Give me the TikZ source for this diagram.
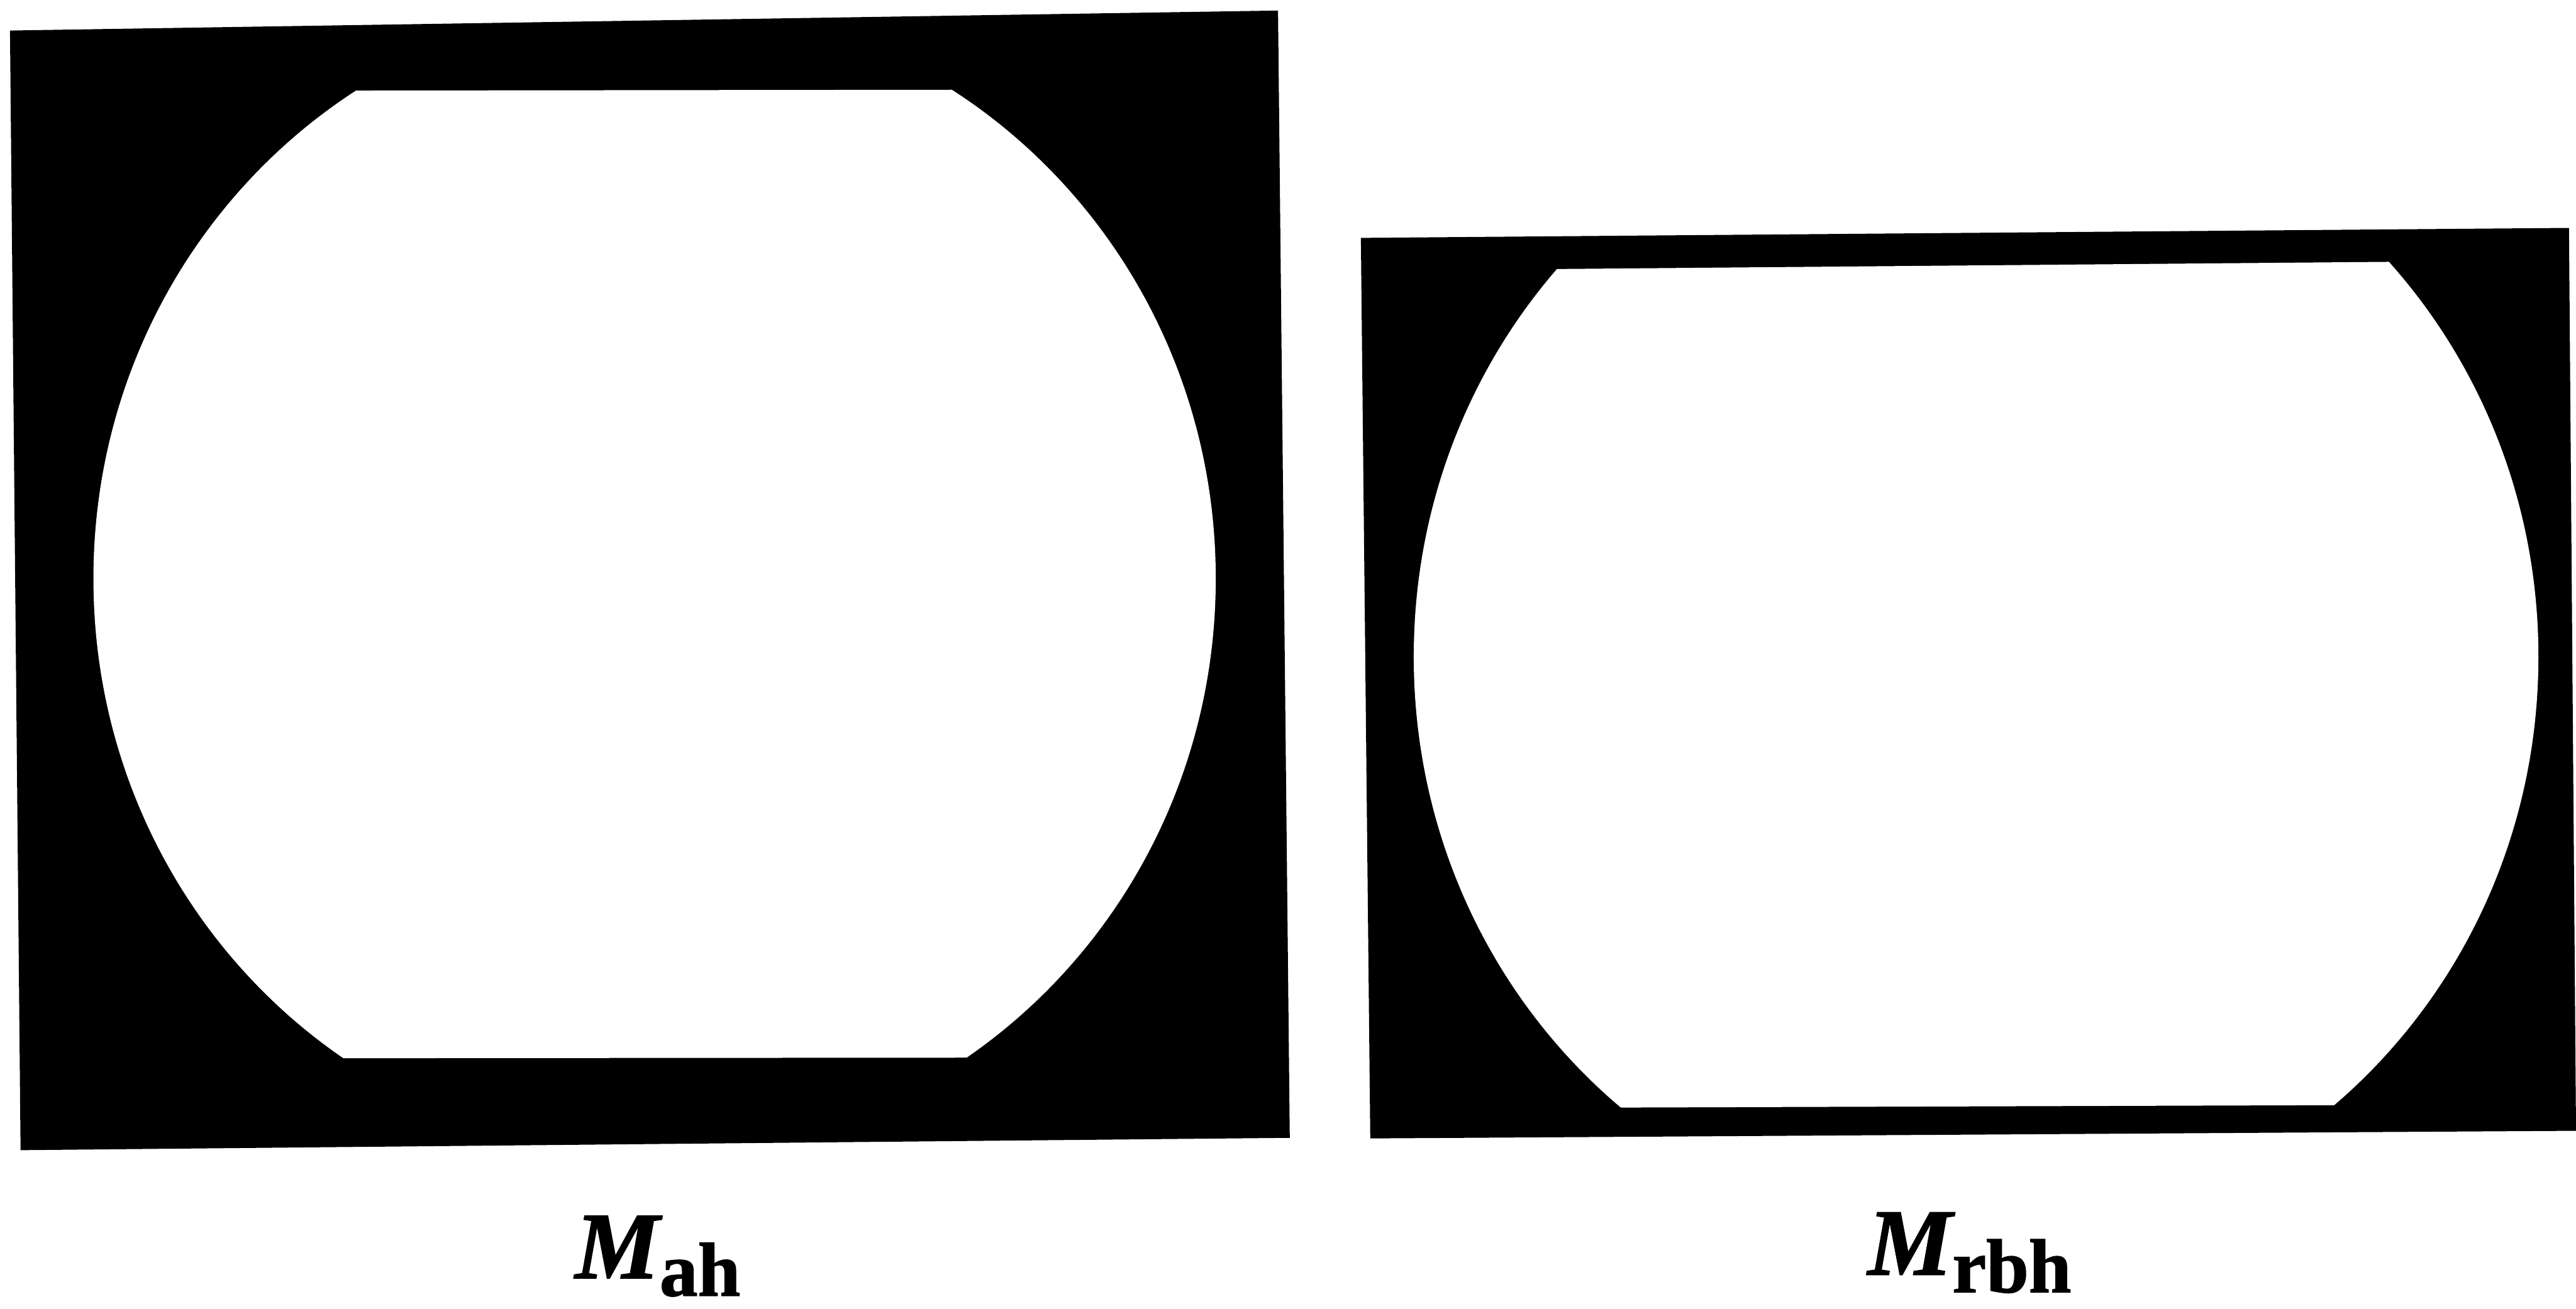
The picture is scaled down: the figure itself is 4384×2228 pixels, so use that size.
\documentclass[tikz,border=0pt]{standalone}
\usepackage{fontspec}
\setmainfont{Liberation Serif}
\newfontfamily\lblfont[FakeBold=1.2]{Liberation Serif}
\tikzset{
  frame/.style={fill=black},
  hole/.style={fill=white},
  lbl/.style={inner sep=0pt, anchor=base west}
}
\newcommand{\mylabel}[1]{{\lblfont\fontsize{46}{54}\selectfont\bfseries\itshape M}\kern0pt\raisebox{-8.5pt}{\lblfont\fontsize{37}{44}\selectfont\bfseries #1}}
\begin{document}
\begin{tikzpicture}[x=0.01cm,y=-0.01cm]
\useasboundingbox (0,0) rectangle (4384,2228);
% left frame
\fill[frame] (17,52) -- (2175,18) -- (2195,1937) -- (35,1958) -- cycle;
\begin{scope}
  \clip (0,155) -- (2200,152) -- (2200,1800) -- (0,1802) -- cycle;
  \fill[hole] (1114,985) ellipse [x radius=955, y radius=981];
\end{scope}
% right frame
\fill[frame] (2316,405) -- (4372,388) -- (4384,1925) -- (2332,1938) -- cycle;
\begin{scope}
  \clip (2300,461) -- (4384,443) -- (4384,1880) -- (2300,1887) -- cycle;
  \fill[hole] (3363,1118) ellipse [x radius=957, y radius=990];
\end{scope}
% labels
\node[lbl] (lab1) at (978,2176) {\mylabel{ah}};
\node[lbl] (lab2) at (3178,2170) {\mylabel{rbh}};
\end{tikzpicture}
\end{document}
